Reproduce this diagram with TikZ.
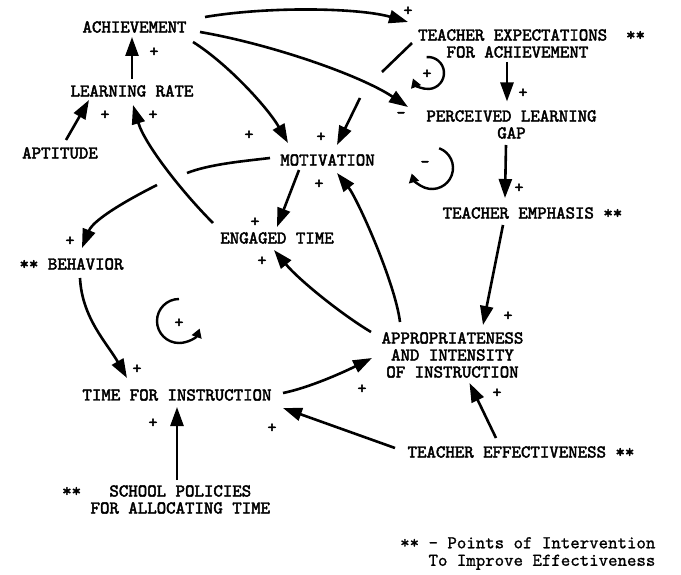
\documentclass[tikz,border=0pt]{standalone}
\usepackage{fontspec}
\newfontfamily\tfont{lmmono10-regular.otf}[FakeBold=2.5]
\newfontfamily\lfont{lmmono10-regular.otf}[FakeBold=1]
\usetikzlibrary{arrows.meta}
\begin{document}
\begin{tikzpicture}[x=1pt,y=-1pt,
  lbl/.style={inner sep=0pt, font=\tfont\bfseries\fontsize{18}{17}\selectfont},
  legend/.style={inner sep=0pt, font=\lfont\bfseries\fontsize{18}{17.5}\selectfont},
  sg/.style={inner sep=0pt, font=\tfont\bfseries\fontsize{17}{17}\selectfont},
  line/.style={line width=2.6pt},
  arr/.style={line width=2.6pt, -{Triangle[length=19pt,width=13pt]}},
  loopa/.style={line width=2.4pt, -{Triangle[length=9pt,width=10pt]}}]
\useasboundingbox (0,0) rectangle (681,575);
\fill[white] (0,0) rectangle (681,575);

% nodes
\node[lbl] (ach) at (134.5,27) {ACHIEVEMENT};
\node[lbl] (lr) at (132,91) {LEARNING RATE};
\node[lbl] (apt) at (60,153) {APTITUDE};
\node[lbl] (mot) at (327.5,160) {MOTIVATION};
\node[lbl, align=left, anchor=west] (tex) at (418,43.5) {TEACHER EXPECTATIONS~~**\\\phantom{XXX}FOR ACHIEVEMENT};
\node[lbl, align=center] (plg) at (511.5,124.5) {PERCEIVED LEARNING\\GAP};
\node[lbl] (tem) at (532.5,213) {TEACHER EMPHASIS **};
\node[lbl] (eng) at (277,238) {ENGAGED TIME};
\node[lbl] (beh) at (71.5,264) {** BEHAVIOR};
\node[lbl, align=center] (app) at (452.5,355) {APPROPRIATENESS\\AND INTENSITY\\OF INSTRUCTION};
\node[lbl] (tfi) at (177,395) {TIME FOR INSTRUCTION};
\node[lbl] (tef) at (521,452) {TEACHER EFFECTIVENESS **};
\node[lbl, align=left, anchor=west] (sp) at (62,499.5) {**~~~SCHOOL POLICIES\\\phantom{XXX}FOR ALLOCATING TIME};
\node[legend, align=left, anchor=west] (leg) at (400,553.5) {** - Points of Intervention\\\phantom{XXX}To Improve Effectiveness};

\coordinate (g1) at (382,72);
\coordinate (g2) at (360,98);
\coordinate (g3) at (187,173);
\coordinate (g4) at (157,185);

% connectors
\draw[arr] ([shift={(70.5,-10)}]ach.center) .. controls +(65,-11) and +(-48,-14) .. ([shift={(-10,-21.5)}]tex.west);
\draw[arr] ([shift={(65.5,5)}]ach.center) .. controls +(70,12) and +(-48,-32) .. ([shift={(-103.5,-17.5)}]plg.center);
\draw[arr] ([shift={(58.5,15)}]ach.center) .. controls +(35,22) and +(-20,-35) .. ([shift={(-39.5,-17)}]mot.center);
\draw[arr] ([shift={(0,-12)}]lr.center) -- ([shift={(-2.5,10)}]ach.center);
\draw[arr] ([shift={(6,-13)}]apt.center) -- ([shift={(-43,9)}]lr.center);
\draw[arr] ([shift={(-64,-15)}]eng.center) .. controls +(-30,-30) and +(12,40) .. ([shift={(1,14)}]lr.center);
\draw[line] ([shift={(-6,-0.5)}]tex.west) -- (g1);
\draw[arr] (g2) -- ([shift={(9.5,-15)}]mot.center);
\draw[arr] ([shift={(-28.5,10)}]mot.center) -- ([shift={(0,-11)}]eng.center);
\draw[line] ([shift={(-57.5,-2)}]mot.center) .. controls +(-25,3) and +(23,-9) .. (g3);
\draw[arr] (g4) .. controls +(-20,10) and +(12,-30) .. ([shift={(10.5,-16)}]beh.center);
\draw[arr] ([shift={(89,18.5)}]tex.west) -- ([shift={(-4.5,-23)}]plg.center);
\draw[arr] ([shift={(-5.5,20.5)}]plg.center) -- ([shift={(-27.5,-15)}]tem.center);
\draw[arr] ([shift={(-29.5,12)}]tem.center) -- ([shift={(30.5,-30)}]app.center);
\draw[arr] ([shift={(-52.5,-33)}]app.center) .. controls +(-5,-40) and +(20,25) .. ([shift={(9.5,13)}]mot.center);
\draw[arr] ([shift={(-81.5,-23)}]app.center) .. controls +(-30,-18) and +(25,30) .. ([shift={(-3,12)}]eng.center);
\draw[arr] ([shift={(8.5,14)}]beh.center) .. controls +(2,40) and +(-20,-35) .. ([shift={(-50,-17)}]tfi.center);
\draw[arr] ([shift={(106,-2)}]tfi.center) .. controls +(25,-5) and +(-30,15) .. ([shift={(-80.5,3)}]app.center);
\draw[arr] ([shift={(115,-19.5)}]sp.west) -- ([shift={(0,12)}]tfi.center);
\draw[arr] ([shift={(-126,-4)}]tef.center) -- ([shift={(106,13)}]tfi.center);
\draw[arr] ([shift={(-25,-14)}]tef.center) -- ([shift={(17,28)}]app.center);

% loops
\coordinate (c1) at (428,73);
\coordinate (c2) at (432,168);
\coordinate (c3) at (179,321);
\draw[loopa] ([shift={(95:16pt)}]c1) arc[start angle=95, end angle=-160, radius=16pt];
\draw[loopa] ([shift={(70:21pt)}]c2) arc[start angle=70, end angle=-165, radius=21pt];
\draw[loopa] ([shift={(90:22pt)}]c3) arc[start angle=90, end angle=340, radius=22pt];

% signs
\node[sg] (s1) at (408,11) {+};
\node[sg] (s2) at (154,52) {+};
\node[sg] (s3) at (105,115) {+};
\node[sg] (s4) at (153,115) {+};
\node[sg] (s5) at (249,135) {+};
\node[sg] (s6) at (321,137) {+};
\node[sg] (s7) at (319,184) {+};
\node[sg] (s8) at (255,222) {+};
\node[sg] (s9) at (262,261) {+};
\node[sg] (s10) at (70,241) {+};
\node[sg] (s11) at (137,369) {+};
\node[sg] (s12) at (401,115) {-};
\node[sg] (s13) at (523,93) {+};
\node[sg] (s14) at (519,188) {+};
\node[sg] (s15) at (508,316) {+};
\node[sg] (s16) at (362,389) {+};
\node[sg] (s17) at (497,393) {+};
\node[sg] (s18) at (272,428) {+};
\node[sg] (s19) at (153,423) {+};
\node[sg] (s20) at (427,74) {+};
\node[sg] (s21) at (425,164) {-};
\node[sg] (s22) at (179,323) {+};
\end{tikzpicture}
\end{document}
